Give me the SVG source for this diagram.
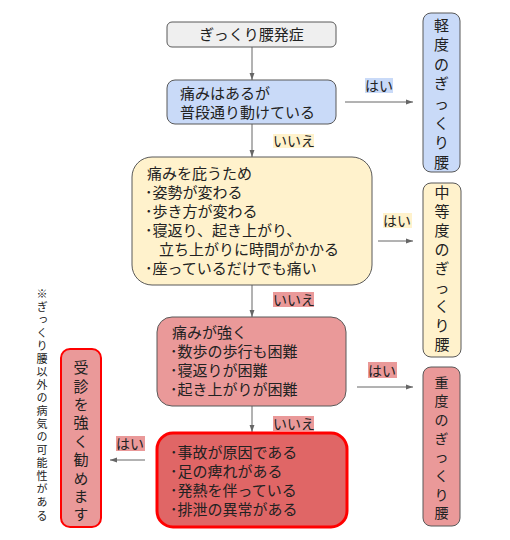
<svg xmlns="http://www.w3.org/2000/svg" width="510" height="540" viewBox="0 0 510 540">
<style>
text{font-family:"Noto Sans CJK JP","Noto Sans",sans-serif;fill:#222;font-size:15px}
.lbl{font-size:14px}
.v{font-size:15px;text-anchor:middle}
.box{stroke:#595959;stroke-width:1}
.ln{stroke:#666;stroke-width:1;fill:none;marker-end:url(#ah)}
</style>
<defs>
<marker id="ah" viewBox="0 0 10 10" refX="10" refY="5" markerWidth="7" markerHeight="7" orient="auto" markerUnits="userSpaceOnUse"><path d="M0,1.5L10,5L0,8.5z" fill="#666"/></marker>
</defs>
<rect width="510" height="540" fill="#fff"/>
<g id="connectors">
<line class="ln" x1="252" y1="47" x2="252" y2="80"/>
<line class="ln" x1="252" y1="124" x2="252" y2="157"/>
<line class="ln" x1="252" y1="285" x2="252" y2="317"/>
<line class="ln" x1="252" y1="406" x2="252" y2="432"/>
<line class="ln" x1="345" y1="102" x2="413" y2="102"/>
<line class="ln" x1="378" y1="241" x2="413" y2="241"/>
<line class="ln" x1="357" y1="387" x2="413" y2="387"/>
<line class="ln" x1="145" y1="460" x2="110" y2="460"/>
<rect x="273" y="134" width="41" height="14" fill="#fff2cc"/>
<text class="lbl" x="273" y="146">いいえ</text>
<rect x="273" y="292" width="41" height="15" fill="#ea9999"/>
<text class="lbl" x="273" y="305">いいえ</text>
<rect x="273" y="416" width="41" height="15" fill="#ea9999"/>
<text class="lbl" x="273" y="429">いいえ</text>
<rect x="365" y="78" width="28" height="15" fill="#c9daf8"/>
<text class="lbl" x="365" y="91">はい</text>
<rect x="383" y="213" width="29" height="15" fill="#fff2cc"/>
<text class="lbl" x="383" y="226">はい</text>
<rect x="368" y="362" width="29" height="16" fill="#ea9999"/>
<text class="lbl" x="368" y="376">はい</text>
<rect x="116" y="436" width="29" height="15" fill="#ea9999"/>
<text class="lbl" x="116" y="449">はい</text>
</g>
<g id="start">
<rect class="box" x="167" y="22" width="169" height="25" rx="5" fill="#efefef"/>
<text x="251.5" y="40" text-anchor="middle">ぎっくり腰発症</text>
</g>
<g id="q1">
<rect class="box" x="167" y="80" width="169" height="44" rx="8" fill="#c9daf8"/>
<text x="180" y="99">痛みはあるが</text>
<text x="180" y="118">普段通り動けている</text>
</g>
<g id="q2">
<rect class="box" x="132" y="157" width="240" height="128" rx="20" fill="#fff2cc"/>
<text x="147" y="179">痛みを庇うため</text>
<text x="145" y="198">･姿勢が変わる</text>
<text x="145" y="217">･歩き方が変わる</text>
<text x="145" y="236">･寝返り、起き上がり、</text>
<text x="159" y="255">立ち上がりに時間がかかる</text>
<text x="145" y="274">･座っているだけでも痛い</text>
</g>
<g id="q3">
<rect class="box" x="157" y="317" width="189" height="89" rx="15" fill="#ea9999"/>
<text x="172" y="338">痛みが強く</text>
<text x="170" y="357">･数歩の歩行も困難</text>
<text x="170" y="376">･寝返りが困難</text>
<text x="170" y="395">･起き上がりが困難</text>
</g>
<g id="q4">
<rect x="157" y="433" width="190" height="94" rx="16" fill="#e06666" stroke="#ff0000" stroke-width="3"/>
<text x="170" y="458">･事故が原因である</text>
<text x="170" y="477">･足の痺れがある</text>
<text x="170" y="496">･発熱を伴っている</text>
<text x="170" y="515">･排泄の異常がある</text>
</g>
<g id="mild">
<rect class="box" x="423" y="13" width="37" height="159" rx="8" fill="#c9daf8"/>
<text class="v"><tspan x="441.5" y="30.5">軽</tspan><tspan x="441.5" y="50">度</tspan><tspan x="441.5" y="69.7">の</tspan><tspan x="441.5" y="89.3">ぎ</tspan><tspan x="441.5" y="108.9">っ</tspan><tspan x="441.5" y="128.5">く</tspan><tspan x="441.5" y="148">り</tspan><tspan x="441.5" y="167.7">腰</tspan></text>
</g>
<g id="moderate">
<rect class="box" x="423" y="183" width="38" height="174" rx="8" fill="#fff2cc"/>
<text class="v"><tspan x="442" y="198">中</tspan><tspan x="442" y="217">等</tspan><tspan x="442" y="236">度</tspan><tspan x="442" y="255">の</tspan><tspan x="442" y="274">ぎ</tspan><tspan x="442" y="293">っ</tspan><tspan x="442" y="312">く</tspan><tspan x="442" y="331">り</tspan><tspan x="442" y="350">腰</tspan></text>
</g>
<g id="severe">
<rect class="box" x="423" y="367" width="37" height="159" rx="8" fill="#ea9999"/>
<text class="v" style="font-size:14px"><tspan x="441.5" y="387.5">重</tspan><tspan x="441.5" y="406.2">度</tspan><tspan x="441.5" y="424.9">の</tspan><tspan x="441.5" y="443.6">ぎ</tspan><tspan x="441.5" y="462.3">っ</tspan><tspan x="441.5" y="481">く</tspan><tspan x="441.5" y="499.7">り</tspan><tspan x="441.5" y="518.4">腰</tspan></text>
</g>
<g id="consult">
<rect x="61" y="349" width="40" height="178" rx="9" fill="#ea9999" stroke="#ff0000" stroke-width="2"/>
<text x="81" y="360" style="writing-mode:vertical-rl;letter-spacing:3.4px">受診を強く勧めます</text>
</g>
<g id="note">
<text x="42" y="288" style="font-size:11px;writing-mode:vertical-rl;letter-spacing:2.05px">※ぎっくり腰以外の病気の可能性がある</text>
</g>
</svg>
